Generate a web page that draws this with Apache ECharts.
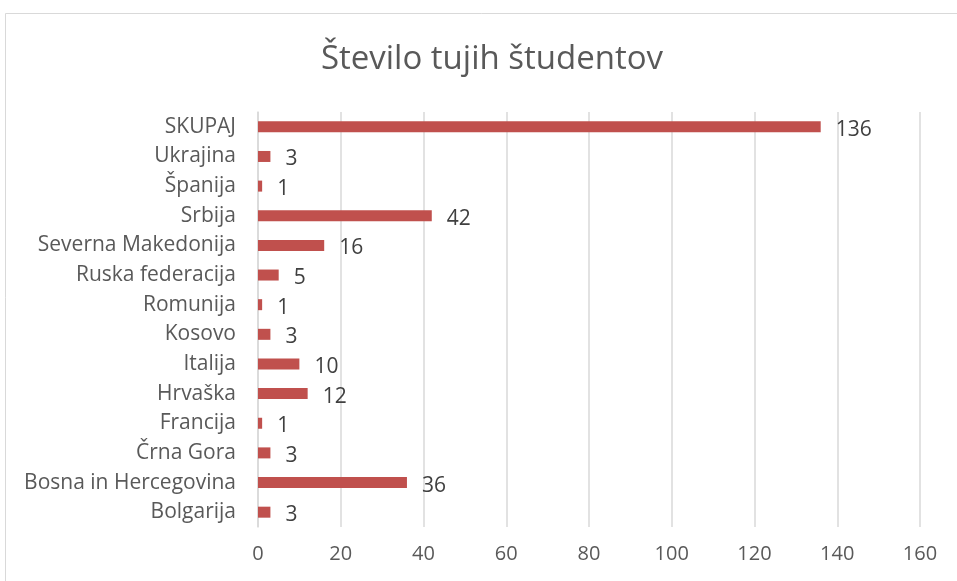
<!DOCTYPE html>
<html><head><meta charset="utf-8">
<script src="https://cdn.jsdelivr.net/npm/echarts@6/dist/echarts.min.js"></script>
<style>html,body{margin:0;padding:0;background:#fff}#c{width:957px;height:581px}</style>
</head><body><div id="c"></div>
<script>
const categories = ["Bolgarija","Bosna in Hercegovina","Črna Gora","Francija","Hrvaška","Italija","Kosovo","Romunija","Ruska federacija","Severna Makedonija","Srbija","Španija","Ukrajina","SKUPAJ"];
const values = [3,36,3,1,12,10,3,1,5,16,42,1,3,136];
const xTicks = {min:0, max:160, interval:20};
const titleText = "Število tujih študentov";

const chart = echarts.init(document.getElementById('c'), null, {renderer:'canvas'});
chart.setOption({
  animation:false,
  backgroundColor:'#fff',
  graphic:[{type:'rect', shape:{x:5.5,y:13.5,width:1000,height:700}, style:{fill:'none', stroke:'#d9d9d9', lineWidth:1}, silent:true}],
  title:{text:titleText, left:487, textAlign:'center', top:38, textStyle:{fontFamily:'Open Sans', fontWeight:'normal', fontSize:33, color:'#595959'}},
  grid:{left:258, right:37, top:112, bottom:54, containLabel:false},
  xAxis:{type:'value', min:xTicks.min, max:xTicks.max, interval:xTicks.interval,
    axisLine:{show:false}, axisTick:{show:false},
    splitLine:{lineStyle:{color:'#d9d9d9', width:1.5}},
    axisLabel:{fontFamily:'Open Sans', fontSize:20, color:'#595959', margin:17}},
  yAxis:{type:'category', data:categories,
    axisLine:{show:true, lineStyle:{color:'#d9d9d9', width:1.5}}, axisTick:{show:false},
    axisLabel:{fontFamily:'Open Sans', fontSize:21, color:'#595959', margin:22}},
  series:[{type:'bar', data:values, barWidth:11, itemStyle:{color:'#c0504d'},
    label:{show:true, position:'right', distance:15, offset:[0,3], fontFamily:'Open Sans', fontSize:21, color:'#404040'}}]
});
</script></body></html>
